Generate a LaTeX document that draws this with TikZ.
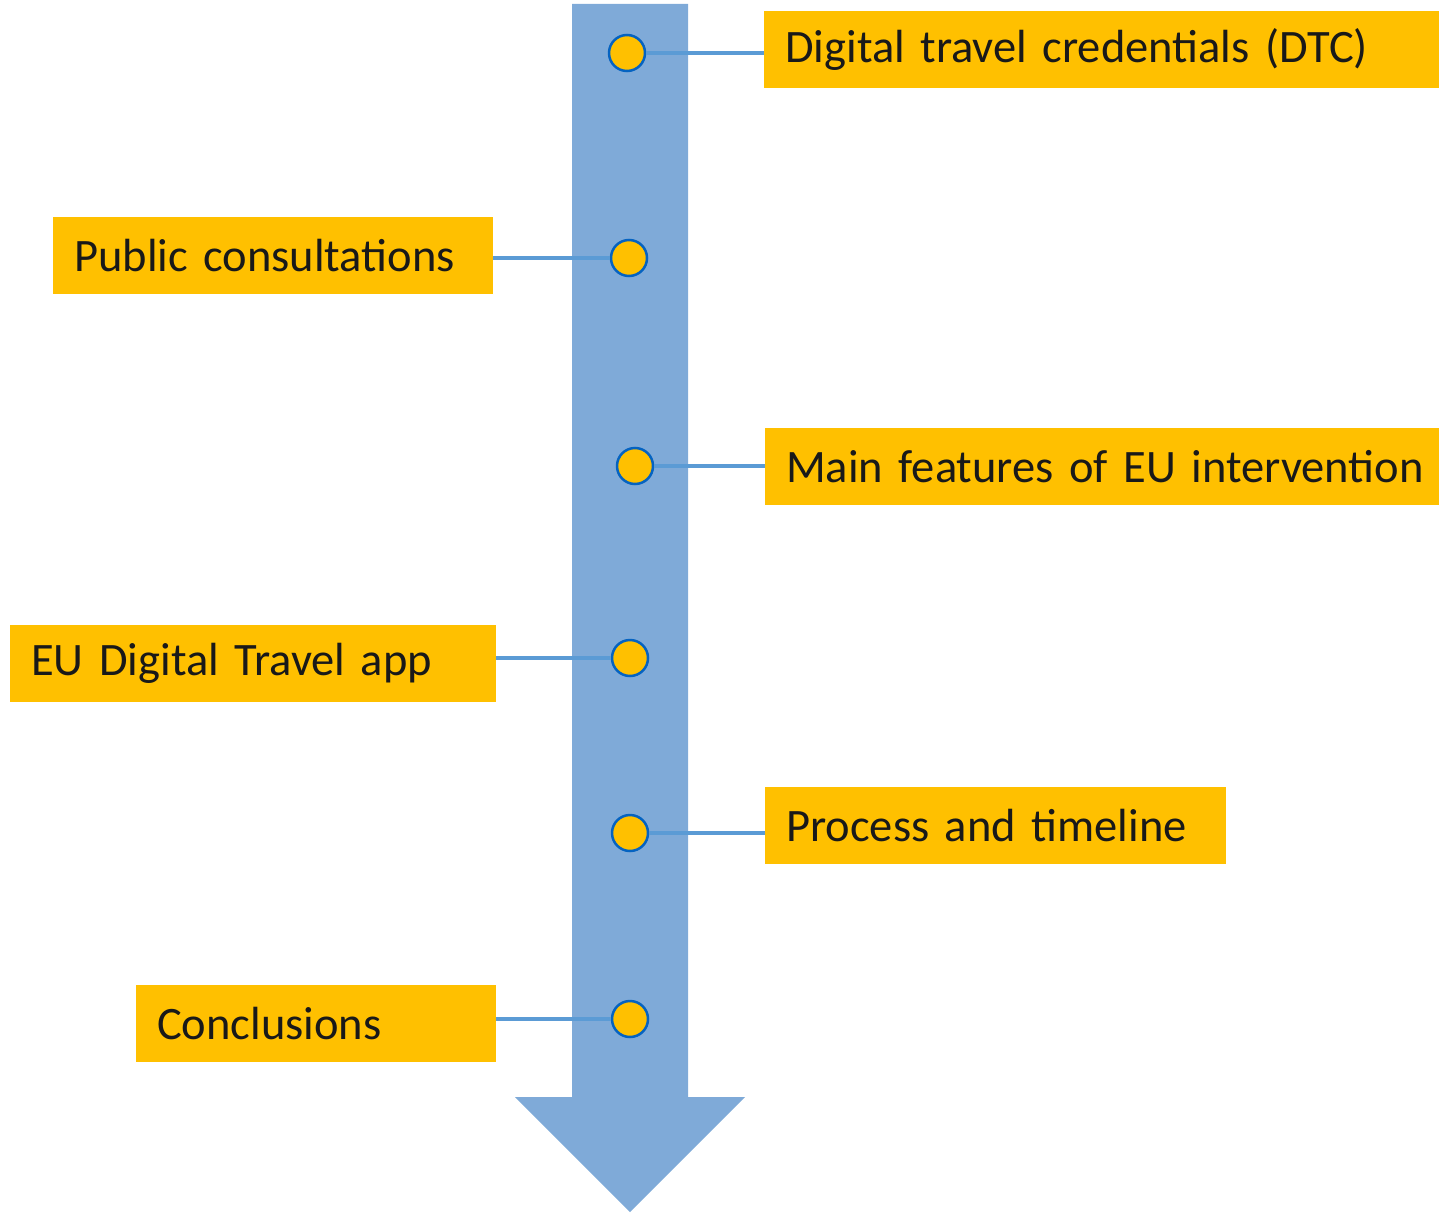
\documentclass[tikz,border=0pt]{standalone}
\usepackage{fontspec}
\setmainfont{Carlito}
\definecolor{shaft}{HTML}{7FAAD8}
\definecolor{gold}{HTML}{FFC000}
\definecolor{ring}{HTML}{0563C1}
\definecolor{link}{HTML}{5B9BD5}
\begin{document}
\begin{tikzpicture}[x=1pt,y=-1pt,
  label box/.style={fill=gold, draw=none, anchor=north west, minimum height=77pt,
    inner xsep=21pt, inner ysep=0pt, align=left, font=\fontsize{46.5}{54}\selectfont, text=black!90},
  dot/.style={circle, fill=gold, draw=ring, line width=2.5pt, minimum size=36pt, inner sep=0pt},
  link line/.style={draw=link, line width=3.5pt}]
\useasboundingbox (0,0) rectangle (1439,1212);
% arrow
\fill[shaft] (572,4) -- (688,4) -- (688,1097) -- (745,1097) -- (630,1212) -- (515,1097) -- (572,1097) -- cycle;
% boxes
\node[label box, text width=633pt] (b1) at (764,11) {\mbox{Digital travel credentials (DTC)}};
\node[label box, text width=398pt] (b2) at (53,217) {\mbox{Public consultations}};
\node[label box, text width=632pt] (b3) at (765,428) {\mbox{Main features of EU intervention}};
\node[label box, text width=444pt] (b4) at (10,625) {\mbox{EU Digital Travel app}};
\node[label box, text width=419pt] (b5) at (765,787) {\mbox{Process and timeline}};
\node[label box, text width=318pt] (b6) at (136,985) {\mbox{Conclusions}};
% dots
\node[dot] (c1) at (627,53) {};
\node[dot] (c2) at (629,258) {};
\node[dot] (c3) at (635,466) {};
\node[dot] (c4) at (630,658) {};
\node[dot] (c5) at (630,833) {};
\node[dot] (c6) at (630,1019) {};
% connectors
\draw[link line] (c1.east) -- (b1.west |- c1.east);
\draw[link line] (c2.west) -- (b2.east |- c2.west);
\draw[link line] (c3.east) -- (b3.west |- c3.east);
\draw[link line] (c4.west) -- (b4.east |- c4.west);
\draw[link line] (c5.east) -- (b5.west |- c5.east);
\draw[link line] (c6.west) -- (b6.east |- c6.west);
\end{tikzpicture}
\end{document}
